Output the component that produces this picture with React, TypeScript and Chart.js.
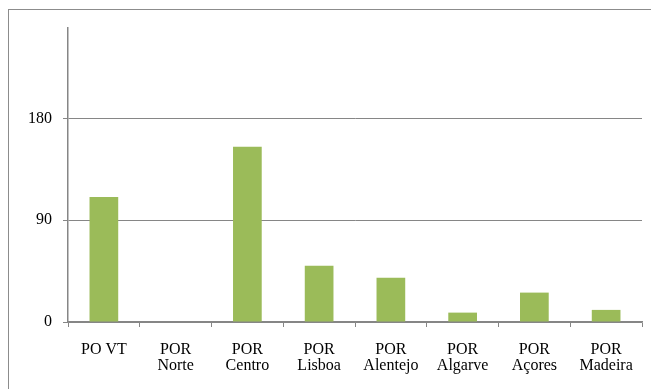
import React, { useEffect, useRef } from "react";
import { Chart, registerables } from "chart.js";

Chart.register(...registerables);

const categories: (string | string[])[] = [
  "PO VT",
  ["POR", "Norte"],
  ["POR", "Centro"],
  ["POR", "Lisboa"],
  ["POR", "Alentejo"],
  ["POR", "Algarve"],
  ["POR", "Açores"],
  ["POR", "Madeira"],
];
const values: number[] = [110.5, 0, 155, 49.8, 39.1, 8.3, 26, 10.7];
const yMin = 0;
const yMax = 260;
const yStep = 90;

const GRAY = "#868686";
const GREEN = "#9BBB59";
const FONT = "Liberation Serif";

Chart.defaults.font.family = FONT;
Chart.defaults.font.size = 16;
Chart.defaults.color = "#000";

export default function App() {
  const ref = useRef<HTMLCanvasElement>(null);

  useEffect(() => {
    if (!ref.current) return;
    const chart = new Chart(ref.current, {
      type: "bar",
      data: {
        labels: categories,
        datasets: [
          {
            data: values,
            backgroundColor: GREEN,
            borderWidth: 0,
            categoryPercentage: 1,
            barPercentage: 0.4,
          },
        ],
      },
      options: {
        responsive: false,
        animation: false,
        devicePixelRatio: 1,
        layout: { padding: { left: 0, right: 9, top: 28, bottom: 0 } },
        plugins: {
          legend: { display: false },
          tooltip: { enabled: false },
        },
        scales: {
          x: {
            grid: {
              display: true,
              offset: true,
              drawOnChartArea: false,
              drawTicks: true,
              tickLength: 5,
              color: GRAY,
            },
            border: { display: true, color: GRAY, width: 1.5 },
            ticks: {
              color: "#000",
              padding: 14,
              maxRotation: 0,
              autoSkip: false,
              font: { family: FONT, size: 16, lineHeight: 1.05 },
            },
            afterFit: (s: any) => {
              s.height = 67;
            },
          },
          y: {
            min: yMin,
            max: yMax,
            grid: {
              color: GRAY,
              tickLength: 5,
              drawTicks: true,
            },
            border: { display: true, color: GRAY, width: 1.5 },
            ticks: {
              stepSize: yStep,
              color: "#000",
              padding: 11,
              font: { family: FONT, size: 16 },
            },
            afterBuildTicks: (s: any) => {
              s.ticks = s.ticks.filter((t: any) => t.value % yStep === 0);
            },
            afterFit: (s: any) => {
              s.width = 68;
            },
          },
        },
      },
    });
    return () => chart.destroy();
  }, []);

  return (
    <div
      style={{
        position: "fixed",
        left: 0,
        top: 0,
        width: 651,
        height: 389,
        overflow: "hidden",
        background: "#fff",
      }}
    >
      <div
        style={{
          position: "absolute",
          left: 8,
          top: 9,
          width: 700,
          height: 450,
          border: "1px solid #8c8c8c",
          boxSizing: "border-box",
        }}
      />
      <canvas
        ref={ref}
        width={651}
        height={389}
        style={{ position: "absolute", left: 0, top: 0, width: 651, height: 389 }}
      />
    </div>
  );
}
